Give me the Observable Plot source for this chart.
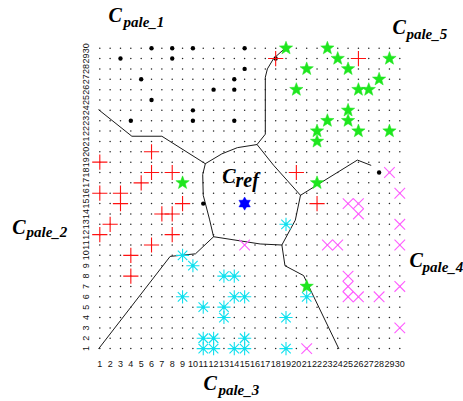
<!DOCTYPE html>
<html>
<head>
<meta charset="utf-8">
<script src="https://cdn.jsdelivr.net/npm/d3@7"></script>
<script src="https://cdn.jsdelivr.net/npm/@observablehq/plot@0.6"></script>
<style>
  html, body { margin: 0; padding: 0; background: #fff; }
  #chart svg { display: block; }
</style>
</head>
<body>
<div id="chart"></div>
<script>
// Tick labels
const xTicks = [1,2,3,4,5,6,7,8,9,10,11,12,13,14,15,16,17,18,19,20,21,22,23,24,25,26,27,28,29,30];
const yTicks = [1,2,3,4,5,6,7,8,9,10,11,12,13,14,15,16,17,18,19,20,21,22,23,24,25,26,27,28,29,30];

// Class members [col, row]
const palet1Dots = [[6,30],[8,30],[10,30],[15,30],[3,29],[8,29],[18,29],[15,28],[5,27],[14,27],[12,26],[14,26],[6,25],[10,24],[4,23],[10,23],[14,23],[11,15],[28,18]];
const pale2Plus = [[18,29],[26,29],[6,20],[1,19],[6,18],[8,18],[20,18],[5,17],[1,16],[3,16],[3,15],[9,15],[22,15],[7,14],[8,14],[2,13],[1,12],[8,12],[6,11],[4,10],[4,8]];
const pale5Stars = [[19,30],[23,30],[24,29],[29,29],[21,28],[25,28],[28,27],[20,26],[26,26],[27,26],[25,24],[23,23],[25,23],[22,22],[26,22],[29,22],[22,21],[9,17],[22,17],[21,7]];
const pale3Ast = [[19,13],[9,10],[10,9],[13,8],[14,8],[9,6],[14,6],[15,6],[21,6],[11,5],[13,5],[13,4],[19,4],[11,2],[12,2],[15,2],[11,1],[12,1],[14,1],[15,1],[19,1]];
const pale4X = [[29,18],[30,16],[25,15],[26,15],[26,14],[30,13],[15,11],[23,11],[24,11],[30,11],[25,8],[25,7],[30,7],[25,6],[26,6],[28,6],[30,3],[21,1]];
const refPoint = [[15,15]];

// Region boundaries (polylines, data units)
const boundary1 = [[0.9,24.05],[4.1,21.5],[7.0,21.5],[11.2,18.85],[12.8,19.8],[14.3,20.4],[16.2,20.7],[17.0,21.7],[17.0,27.2],[17.2,28.0],[17.8,29.0],[18.8,29.9]];
const boundary2 = [[16.2,20.7],[17.8,18.7],[20.4,15.8],[25.9,19.2],[27.2,18.7]];
const boundary3 = [[20.4,15.8],[19.9,13.4],[18.6,11.0],[18.9,9.0],[20.7,8.05],[24.1,1.0]];
const boundary4 = [[18.6,11.0],[16.5,11.1],[12.0,11.8],[11.6,13.5],[11.0,15.8],[10.95,17.8],[11.2,18.85]];
const boundary5 = [[12.0,11.8],[10.25,10.15],[7.8,9.9],[0.9,1.0]];

// Region labels (annotation anchors, data units)
const labels = [
  {main: "C", sub: "pale_1", x: 1.84, y: 32.5, sdx: 15, sdy: 4.3, subSize: 15},
  {main: "C", sub: "pale_5", x: 29.29, y: 31.35, sdx: 14, sdy: 5, subSize: 15},
  {main: "C", sub: "ref", x: 12.83, y: 16.94, sdx: 13.3, sdy: 3.7, subSize: 20},
  {main: "C", sub: "pale_2", x: -7.47, y: 12.11, sdx: 14.3, sdy: 3, subSize: 15},
  {main: "C", sub: "pale_4", x: 30.94, y: 8.83, sdx: 13, sdy: 4.7, subSize: 15},
  {main: "C", sub: "pale_3", x: 11.02, y: -3.04, sdx: 15, sdy: 5, subSize: 15}
];

const grid = xTicks.flatMap(x => yTicks.map(y => [x, y]));

// custom symbols
const plusSym = {draw(c, s) { const r = Math.sqrt(s / Math.PI); c.moveTo(-r, 0); c.lineTo(r, 0); c.moveTo(0, -r); c.lineTo(0, r); }};
const timesSym = {draw(c, s) { const r = Math.sqrt(s / Math.PI); c.moveTo(-r, -r); c.lineTo(r, r); c.moveTo(-r, r); c.lineTo(r, -r); }};
const astSym = {draw(c, s) { const r = Math.sqrt(s / Math.PI); const d = r * 0.72;
  c.moveTo(-r, 0); c.lineTo(r, 0); c.moveTo(0, -r); c.lineTo(0, r);
  c.moveTo(-d, -d); c.lineTo(d, d); c.moveTo(-d, d); c.lineTo(d, -d); }};
const star5 = {draw(c, s) { const R = Math.sqrt(s / Math.PI), ri = R * 0.42;
  for (let i = 0; i < 10; i++) { const a = -Math.PI / 2 + i * Math.PI / 5; const rr = i % 2 ? ri : R;
    const px = rr * Math.cos(a), py = rr * Math.sin(a); i ? c.lineTo(px, py) : c.moveTo(px, py); }
  c.closePath(); }};
const hexagram = {draw(c, s) { const R = Math.sqrt(s / Math.PI);
  for (const off of [-Math.PI / 2, Math.PI / 2]) {
    for (let i = 0; i < 3; i++) { const a = off + i * 2 * Math.PI / 3; const px = R * Math.cos(a), py = R * Math.sin(a); i ? c.lineTo(px, py) : c.moveTo(px, py); }
    c.closePath(); } }};

const serif = "'Liberation Serif', 'Times New Roman', serif";
const sans = "'Liberation Sans', Arial, sans-serif";

const lineMark = (b) => Plot.line(b, {x: d => d[0], y: d => d[1], stroke: "#1a1a1a", strokeWidth: 1});

const chart = Plot.plot({
  width: 463,
  height: 401,
  marginLeft: 99.3,
  marginRight: 63.7,
  marginTop: 47.7,
  marginBottom: 52.9,
  x: {domain: [1, 30], axis: null},
  y: {domain: [1, 30], axis: null},
  style: {background: "#fff"},
  marks: [
    Plot.dot(grid, {x: d => d[0], y: d => d[1], r: 0.75, fill: "#222", stroke: "none"}),
    Plot.text(xTicks, {x: d => d, frameAnchor: "bottom", dy: 16, text: d => String(d), fontSize: 9, fontFamily: sans, fill: "#111", textAnchor: "middle", lineAnchor: "middle"}),
    Plot.text(yTicks, {y: d => d, frameAnchor: "left", dx: -14, rotate: -90, text: d => String(d), fontSize: 9, fontFamily: sans, fill: "#111", textAnchor: "middle", lineAnchor: "middle"}),
    lineMark(boundary1), lineMark(boundary2), lineMark(boundary3), lineMark(boundary4), lineMark(boundary5),
    Plot.dot(palet1Dots, {x: d => d[0], y: d => d[1], r: 2.2, fill: "#000"}),
    Plot.dot(pale2Plus, {x: d => d[0], y: d => d[1], r: 7.6, symbol: plusSym, fill: "none", stroke: "#ff1010", strokeWidth: 1.1}),
    Plot.dot(pale3Ast, {x: d => d[0], y: d => d[1], r: 6.6, symbol: astSym, fill: "none", stroke: "#10e0ee", strokeWidth: 1.1}),
    Plot.dot(pale3Ast, {x: d => d[0], y: d => d[1], r: 1.7, fill: "#10e0ee"}),
    Plot.dot(pale4X, {x: d => d[0], y: d => d[1], r: 5.3, symbol: timesSym, fill: "none", stroke: "#ff5cff", strokeWidth: 1.1}),
    Plot.dot(pale5Stars, {x: d => d[0], y: d => d[1], r: 7, symbol: star5, fill: "#1ee61e", stroke: "#1ee61e", strokeWidth: 0.5}),
    Plot.dot(refPoint, {x: d => d[0], y: d => d[1], r: 6.6, symbol: hexagram, fill: "#0000ff", stroke: "#0000ff", strokeWidth: 0.5}),
    Plot.text(labels, {x: "x", y: "y", text: "main", fontSize: 20, fontFamily: serif, fontWeight: "bold", fontStyle: "italic", fill: "#000", textAnchor: "start", lineAnchor: "bottom"}),
    ...labels.map(l => Plot.text([l], {x: "x", y: "y", text: "sub", dx: l.sdx, dy: l.sdy, fontSize: l.subSize, fontFamily: serif, fontWeight: "bold", fontStyle: "italic", fill: "#000", textAnchor: "start", lineAnchor: "bottom"}))
  ]
});
document.getElementById("chart").appendChild(chart);
</script>
</body>
</html>
